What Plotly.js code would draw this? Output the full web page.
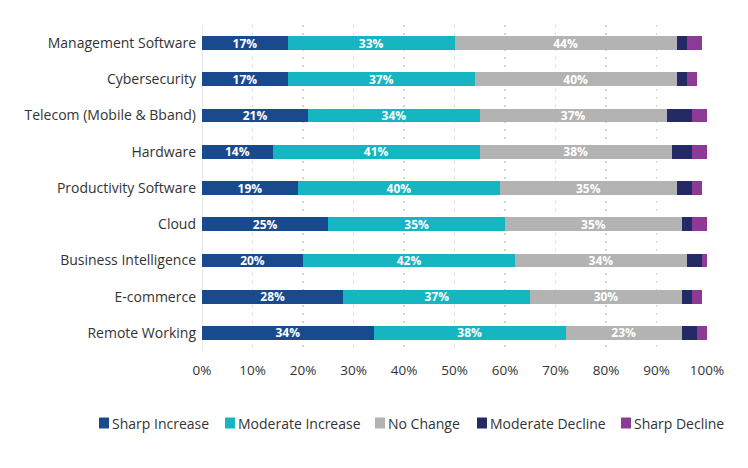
<!DOCTYPE html>
<html>
<head>
<meta charset="utf-8">
<script src="https://cdn.plot.ly/plotly-3.0.1.min.js"></script>
<style>html,body{margin:0;padding:0;background:#fff;}#chart{width:748px;height:468px;}</style>
</head>
<body>
<div id="chart"></div>
<script>
const categories = ["Management Software","Cybersecurity","Telecom (Mobile & Bband)","Hardware","Productivity Software","Cloud","Business Intelligence","E-commerce","Remote Working"];
const sharpIncrease    = [17,17,21,14,19,25,20,28,34];
const moderateIncrease = [33,37,34,41,40,35,42,37,38];
const noChange         = [44,40,37,38,35,35,34,30,23];
const moderateDecline  = [2,2,5,4,3,2,3,2,3];
const sharpDecline     = [3,2,3,3,2,3,1,2,2];
const seriesNames = ["Sharp Increase","Moderate Increase","No Change","Moderate Decline","Sharp Decline"];
const seriesColors = ["#1a4a8e","#15b5c1","#b3b3b3","#232a66","#8d3a96"];
const seriesData = [sharpIncrease, moderateIncrease, noChange, moderateDecline, sharpDecline];
const tickVals = [0,10,20,30,40,50,60,70,80,90,100];
const tickText = ["0%","10%","20%","30%","40%","50%","60%","70%","80%","90%","100%"];

const traces = seriesData.map((vals, i) => ({
  type: 'bar',
  orientation: 'h',
  name: seriesNames[i],
  y: categories,
  x: vals,
  marker: {color: seriesColors[i], line: {width: 0}},
  width: 0.38,
  text: i < 3 ? vals.map(v => v + '%') : vals.map(() => ''),
  textposition: i < 3 ? 'inside' : 'none',
  insidetextanchor: 'middle',
  textangle: 0,
  constraintext: 'none',
  textfont: {family: 'Open Sans', size: 12, color: '#ffffff', weight: 'bold'},
  hoverinfo: 'none',
  showlegend: false
}));

// Custom one-row legend (pixel layout converted to paper coords)
const W = 748, H = 468, ML = 202, MR = 41, MT = 25, MB = 117;
const PW = W - ML - MR, PH = H - MT - MB;
const px2x = p => (p - ML) / PW;
const py2y = p => (H - MB - p) / PH;
const legendLeft = [99, 225, 375, 477, 621];
const legendY = 423;
const shapes = [], annotations = [];
seriesNames.forEach((n, i) => {
  shapes.push({type: 'rect', xref: 'paper', yref: 'paper',
    x0: px2x(legendLeft[i]), x1: px2x(legendLeft[i] + 10),
    y0: py2y(legendY + 5.5), y1: py2y(legendY - 5.5),
    fillcolor: seriesColors[i], line: {width: 0}});
  annotations.push({xref: 'paper', yref: 'paper', x: px2x(legendLeft[i] + 11), y: py2y(legendY),
    xanchor: 'left', yanchor: 'middle', showarrow: false, text: n,
    font: {family: 'Open Sans', size: 14, color: '#333333'}});
});

const layout = {
  width: W, height: H,
  barmode: 'stack',
  margin: {l: ML, r: MR, t: MT, b: MB},
  paper_bgcolor: '#ffffff',
  plot_bgcolor: '#ffffff',
  font: {family: 'Open Sans', size: 13, color: '#333333'},
  showlegend: false,
  shapes: shapes,
  annotations: annotations,
  xaxis: {
    range: [0, 100], tickvals: tickVals, ticktext: tickText,
    showgrid: true, gridcolor: '#d4d4d4', griddash: '2px,6px', gridwidth: 1.2,
    zeroline: true, zerolinecolor: '#e6e6e6', zerolinewidth: 1,
    showline: false, ticks: '', ticklabelstandoff: 9,
    tickfont: {family: 'Open Sans', size: 13.5, color: '#333333'},
    fixedrange: true
  },
  yaxis: {
    autorange: 'reversed', showgrid: false, zeroline: false,
    showline: false, ticks: '', ticklen: 0, ticklabelstandoff: 5,
    tickfont: {family: 'Open Sans', size: 14, color: '#333333'},
    fixedrange: true
  }
};

Plotly.newPlot('chart', traces, layout, {displayModeBar: false, staticPlot: true});
</script>
</body>
</html>
